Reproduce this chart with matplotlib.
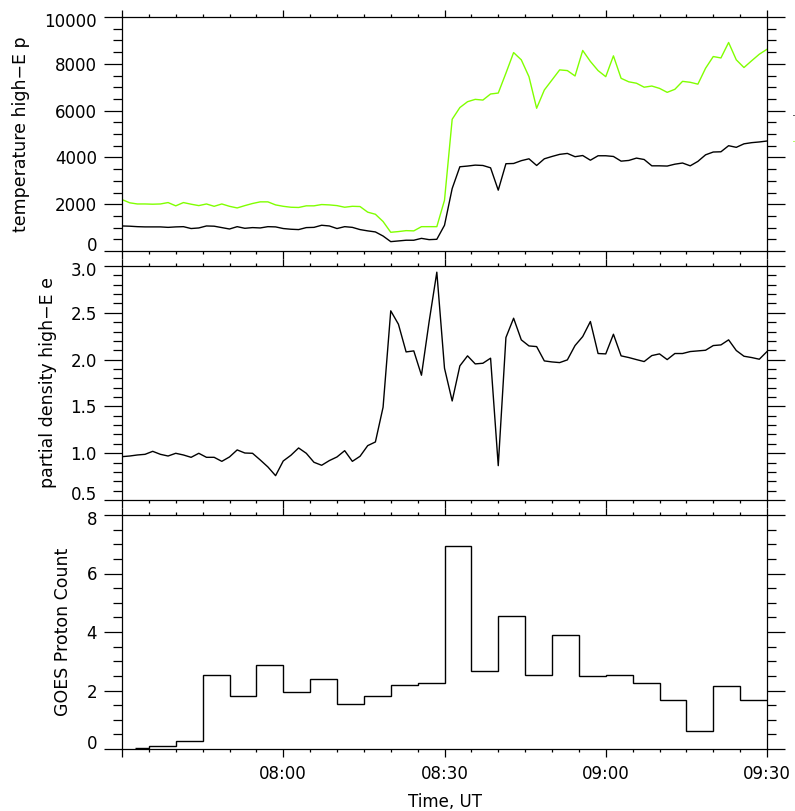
import numpy as np
import matplotlib
matplotlib.use("Agg")
from matplotlib import pyplot as plt
from matplotlib import transforms
from matplotlib.ticker import MultipleLocator, FuncFormatter

# time axis: minutes after 07:30 UT, one sample every 120/84 min
t0_minutes = 7 * 60 + 30
cadence = 120.0 / 84

# high-E proton temperature, two components (black / green)
temp_black = [1070, 1060, 1040, 1030, 1030, 1030, 1010, 1030, 1040, 960,
              985, 1070, 1060, 1000, 940, 1040, 970, 1000, 985, 1040,
              1030, 960, 930, 915, 1000, 1010, 1100, 1070, 960, 1040,
              1010, 915, 860, 815, 640, 400, 430, 460, 460, 540,
              485, 500, 1100, 2670, 3600, 3630, 3670, 3655, 3555, 2600,
              3730, 3740, 3860, 3940, 3655, 3940, 4040, 4130, 4170, 4030,
              4080, 3880, 4070, 4070, 4040, 3840, 3870, 3970, 3910, 3640,
              3640, 3630, 3710, 3760, 3640, 3830, 4110, 4230, 4240, 4500,
              4430, 4580, 4630, 4660, 4700]
temp_green = [2200, 2060, 2010, 2010, 2000, 2010, 2070, 1930, 2070, 2000,
              1940, 2010, 1910, 2010, 1910, 1840, 1940, 2030, 2100, 2100,
              1970, 1910, 1870, 1860, 1930, 1930, 1985, 1970, 1940, 1870,
              1910, 1900, 1660, 1570, 1260, 800, 830, 870, 860, 1040,
              1040, 1040, 2170, 5630, 6130, 6380, 6480, 6450, 6710, 6750,
              7600, 8480, 8170, 7450, 6100, 6880, 7310, 7740, 7710, 7480,
              8570, 8100, 7710, 7450, 8340, 7380, 7230, 7170, 7000, 7050,
              6950, 6780, 6910, 7250, 7210, 7130, 7810, 8310, 8250, 8910,
              8170, 7840, 8130, 8410, 8620]

# partial density of high-E electrons
density_e = [0.963, 0.970, 0.981, 0.988, 1.020, 0.988, 0.970, 0.999, 0.981, 0.956,
             0.999, 0.956, 0.956, 0.913, 0.960, 1.035, 1.002, 0.999, 0.928, 0.853,
             0.760, 0.917, 0.978, 1.056, 0.999, 0.903, 0.871, 0.921, 0.960, 1.027,
             0.913, 0.967, 1.081, 1.120, 1.491, 2.521, 2.378, 2.082, 2.093, 1.833,
             2.407, 2.934, 1.908, 1.558, 1.933, 2.040, 1.954, 1.961, 2.015, 0.867,
             2.236, 2.442, 2.211, 2.146, 2.139, 1.986, 1.975, 1.968, 1.997, 2.150,
             2.246, 2.407, 2.065, 2.061, 2.271, 2.040, 2.022, 2.000, 1.979, 2.043,
             2.061, 2.000, 2.065, 2.065, 2.086, 2.093, 2.100, 2.150, 2.157, 2.211,
             2.097, 2.036, 2.022, 2.004, 2.086]

# GOES proton counts, 5-minute bins (bin centres, minutes after 07:30)
goes_centres = [2.5, 7.5, 12.5, 17.5, 22.5, 27.5, 32.5, 37.5, 42.5, 47.5, 52.5, 57.5,
                62.5, 67.5, 72.5, 77.5, 82.5, 87.5, 92.5, 97.5, 102.5, 107.5, 112.5, 117.5]
goes_counts = [0.02, 0.09, 0.27, 2.52, 1.81, 2.87, 1.94, 2.39, 1.54, 1.81, 2.20, 2.26,
               6.94, 2.66, 4.55, 2.54, 3.89, 2.51, 2.54, 2.27, 1.66, 0.60, 2.14, 1.68]

t = np.arange(len(temp_black)) * cadence

plt.rcParams['font.family'] = 'DejaVu Sans'
plt.rcParams['font.size'] = 12

fig = plt.figure(figsize=(7.95, 8.11), dpi=100)
W, H = 795.0, 811.0
left, right = 122 / W, 767 / W
panels = [(17, 251), (266, 500), (515, 749)]
axes = [fig.add_axes([left, 1 - b / H, right - left, (b - tp) / H]) for tp, b in panels]
ax1, ax2, ax3 = axes


def hhmm(m, pos=None):
    if abs(m) < 1e-6:
        return ""
    tot = int(round(t0_minutes + m))
    return "%02d:%02d" % (tot // 60, tot % 60)


ax1.plot(t, temp_green, color='#80ff00', lw=1.0)
ax1.plot(t, temp_black, color='black', lw=1.0)
ax1.set_ylim(0, 10000)
ax1.set_yticks(np.arange(0, 10001, 2000))
ax1.yaxis.set_minor_locator(MultipleLocator(500))
ax1.set_ylabel("temperature high\u2212E p", fontsize=12.5, labelpad=10)

ax2.plot(t, density_e, color='black', lw=1.0)
ax2.set_ylim(0.5, 3.0)
ax2.set_yticks(np.arange(0.5, 3.01, 0.5))
ax2.yaxis.set_minor_locator(MultipleLocator(0.1))
ax2.yaxis.set_major_formatter(FuncFormatter(lambda v, p: "%.1f" % v))
ax2.set_ylabel("partial density high\u2212E e", fontsize=12.5, labelpad=10)

gc = np.array(goes_centres)
edges = np.append(gc - 2.5, gc[-1] + 2.5)
edges[0] = gc[0]
ax3.stairs(goes_counts, edges, baseline=None, color='black', lw=1.0)
ax3.set_ylim(0, 8)
ax3.set_yticks(np.arange(0, 9, 2))
ax3.yaxis.set_minor_locator(MultipleLocator(0.5))
ax3.set_ylabel("GOES Proton Count", fontsize=12.5, labelpad=10)
ax3.set_xlabel("Time, UT", labelpad=7)

lift = transforms.ScaledTranslation(0, 3 / 72, fig.dpi_scale_trans)
for ax in axes:
    ax.set_xlim(0, 120)
    ax.xaxis.set_major_locator(MultipleLocator(30))
    ax.xaxis.set_minor_locator(MultipleLocator(5))
    ax.xaxis.set_major_formatter(FuncFormatter(hhmm))
    ax.tick_params(axis='x', which='both', direction='out', top=True, bottom=True,
                   labelbottom=(ax is ax3), pad=6)
    ax.tick_params(axis='x', which='major', length=5.4, width=0.9)
    ax.tick_params(axis='x', which='minor', length=2.2, width=0.9)
    ax.tick_params(axis='y', which='both', direction='out', left=True, right=True, pad=5)
    ax.tick_params(axis='y', which='major', length=13, width=0.9)
    ax.tick_params(axis='y', which='minor', length=6.5, width=0.9)
    for s in ax.spines.values():
        s.set_linewidth(0.9)
    # edge labels sit inside the panel, as in the original
    labels = ax.get_yticklabels()
    labels[0].set_verticalalignment('baseline')
    labels[-1].set_verticalalignment('top')
    labels[-1].set_transform(labels[-1].get_transform() + lift)

# clipped legend remnants at the right edge
fig.text(792 / W, 1 - 113 / H, ".", color='black', fontsize=9, va='center')
fig.text(792 / W, 1 - 138 / H, ".", color='#80ff00', fontsize=9, va='center')

fig.savefig("out.png", dpi=100)
